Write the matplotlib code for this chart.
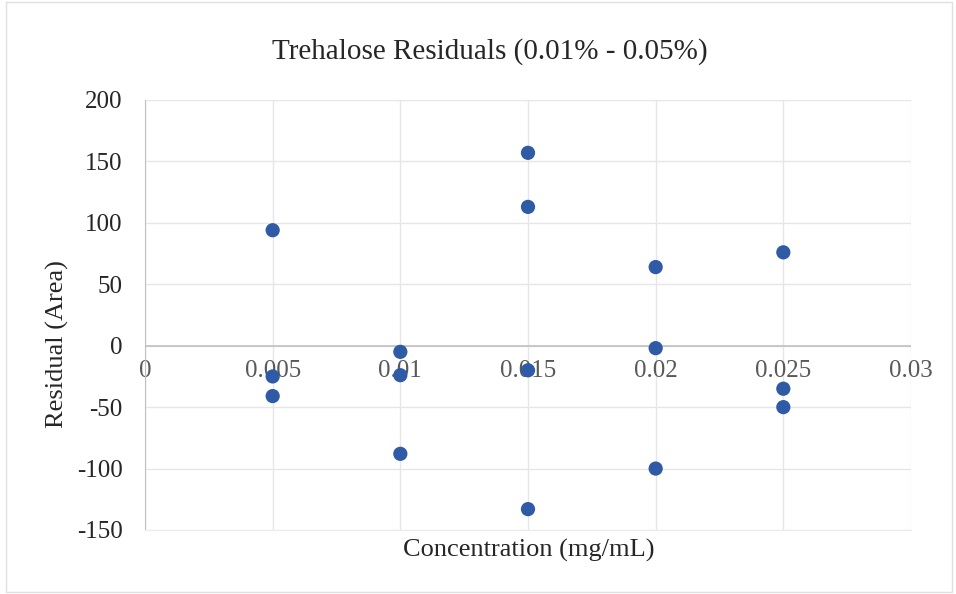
import matplotlib
matplotlib.use("Agg")
import matplotlib.pyplot as plt
from matplotlib.patches import Rectangle

# residuals
conc = [0.005, 0.005, 0.005,
        0.01, 0.01, 0.01,
        0.015, 0.015, 0.015, 0.015,
        0.02, 0.02, 0.02,
        0.025, 0.025, 0.025]
resid = [94, -25, -41,
         -5, -24, -88,
         157, 113, -20, -133,
         64, -2, -100,
         76, -35, -50]

x_ticks = [0, 0.005, 0.01, 0.015, 0.02, 0.025, 0.03]
x_tick_labels = ["0", "0.005", "0.01", "0.015", "0.02", "0.025", "0.03"]
y_ticks = [-150, -100, -50, 0, 50, 100, 150, 200]
y_tick_labels = ["-150", "-100", "-50", "0", "50", "100", "150", "200"]

plt.rcParams['font.family'] = ['Liberation Serif', 'DejaVu Serif']

fig = plt.figure(figsize=(9.56, 5.94), dpi=100)
ax = fig.add_axes([145 / 956, 1 - 530 / 594, (911 - 145) / 956, (530 - 100) / 594])

# chart border like Excel
fig.patches.append(Rectangle((0.006, 0.004), 0.99, 0.992, transform=fig.transFigure,
                             fill=False, edgecolor="#e0e0e0", linewidth=1.0))

ax.set_xlim(0, 0.03)
ax.set_ylim(-150, 200)
ax.set_yticks(y_ticks)
ax.set_yticklabels(y_tick_labels)
ax.set_xticks(x_ticks)
ax.grid(True, color="#e6e6e6", linewidth=1.0)
ax.set_axisbelow(True)
for s in ["top", "right"]:
    ax.spines[s].set_visible(False)
ax.spines["bottom"].set_color("#ececec")
ax.spines["left"].set_color("#c0c0c0")
ax.axhline(0, color="#c0c0c0", linewidth=1.2, zorder=1)
ax.tick_params(axis="both", length=0, labelsize=18, colors="#262626")
ax.tick_params(axis="y", pad=16)
ax.set_xticklabels([])

ax.scatter(conc, resid, s=105, color="#2e5aa6", zorder=3, edgecolors="none")

# x tick labels sit along the zero line
for xv, lab in zip(x_ticks, x_tick_labels):
    ax.text(xv, -12, lab, ha="center", va="top", fontsize=18, color="#595959", zorder=2)

fig.text(490 / 956, 1 - 52 / 594, "Trehalose Residuals (0.01% - 0.05%)",
         ha="center", va="center", fontsize=21, color="#262626")
fig.text(529 / 956, 1 - 550 / 594, "Concentration (mg/mL)",
         ha="center", va="center", fontsize=19, color="#262626")
fig.text(57 / 956, 1 - 344 / 594, "Residual (Area)", rotation=90,
         ha="center", va="center", fontsize=19, color="#262626")

fig.savefig("out.png", dpi=100)
